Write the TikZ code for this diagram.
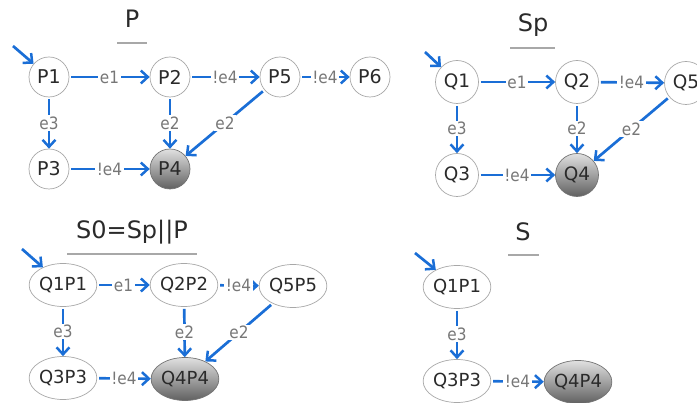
\documentclass[tikz,border=0pt]{standalone}
\usepackage{fontspec}
\setmainfont{DejaVu Sans}
\newfontfamily\narrowfont{DejaVu Sans}[FakeStretch=0.9]
\usetikzlibrary{arrows.meta,shapes.geometric}
\definecolor{edgeblue}{HTML}{1A6ED6}
\definecolor{lblgray}{HTML}{777777}
\definecolor{txtdark}{HTML}{2A2A2A}
\definecolor{rimgray}{HTML}{A8A8A8}
\begin{document}
\begin{tikzpicture}[x=1pt,y=-1pt,
  state/.style={circle,draw=rimgray,line width=0.7pt,fill=white,text=txtdark,
    minimum size=40pt,inner sep=0pt,font=\fontsize{19}{19}\selectfont},
  qstate/.style={state,minimum size=43pt,font=\fontsize{18.5}{18.5}\selectfont},
  pstate/.style={ellipse,draw=rimgray,line width=0.7pt,fill=white,text=txtdark,
    minimum width=62pt,minimum height=43pt,inner sep=0pt,font=\fontsize{18}{18}\selectfont},
  final/.style={draw=black!55,top color=black!12,bottom color=black!62,fill=none},
  trans/.style={draw=edgeblue,line width=2.7pt,shorten <=2pt,
    -{Straight Barb[length=7pt,width=13pt,line width=2.5pt]}},
  initarrow/.style={draw=edgeblue,line width=2.7pt,
    -{Straight Barb[length=7pt,width=13pt,line width=2.5pt]}},
  lbl/.style={fill=white,text=lblgray,inner sep=1.5pt,font=\narrowfont\fontsize{17}{17}\selectfont},
  title/.style={text=txtdark,anchor=base,inner sep=0pt,font=\fontsize{24}{24}\selectfont},
  rule/.style={draw=rimgray,line width=1.1pt}
]
\clip (0,0) rectangle (697,403);

% ---------- automaton P ----------
\node[title] (tP) at (132,28) {P};
\coordinate (uPa) at (117,43); \coordinate (uPb) at (147,43);
\draw[rule] (uPa) -- (uPb);
\node[state] (P1) at (49,77) {P1};
\node[state] (P2) at (170,77) {P2};
\node[state] (P5) at (280,77) {P5};
\node[state] (P6) at (370,77) {P6};
\node[state] (P3) at (49,169) {P3};
\node[state,final] (P4) at (170,169) {P4};
\coordinate (iP) at (13,46);
\draw[initarrow] (iP) -- (P1);
\draw[trans] (P1) -- node[lbl] {e1} (P2);
\draw[trans] (P2) -- node[lbl] {!e4} (P5);
\draw[trans] (P5) -- node[lbl] {!e4} (P6);
\draw[trans] (P1) -- node[lbl] {e3} (P3);
\draw[trans] (P2) -- node[lbl] {e2} (P4);
\draw[trans] (P5) -- node[lbl] {e2} (P4);
\draw[trans] (P3) -- node[lbl] {!e4} (P4);

% ---------- automaton Sp ----------
\node[title] (tSp) at (533,32) {Sp};
\coordinate (uSpa) at (510,48); \coordinate (uSpb) at (555,48);
\draw[rule] (uSpa) -- (uSpb);
\node[qstate] (Q1) at (457,82) {Q1};
\node[qstate] (Q2) at (577,82) {Q2};
\node[qstate] (Q5) at (686,83) {Q5};
\node[qstate] (Q3) at (457,175) {Q3};
\node[qstate,final] (Q4) at (577,175) {Q4};
\coordinate (iSp) at (425,52);
\draw[initarrow] (iSp) -- (Q1);
\draw[trans] (Q1) -- node[lbl] {e1} (Q2);
\draw[trans] (Q2) -- node[lbl] {!e4} (Q5);
\draw[trans] (Q1) -- node[lbl] {e3} (Q3);
\draw[trans] (Q2) -- node[lbl] {e2} (Q4);
\draw[trans] (Q5) -- node[lbl] {e2} (Q4);
\draw[trans] (Q3) -- node[lbl] {!e4} (Q4);

% ---------- product S0 = Sp||P ----------
\node[title] (tS0) at (132,239) {S0=Sp||P};
\coordinate (uS0a) at (67,254); \coordinate (uS0b) at (197,254);
\draw[rule] (uS0a) -- (uS0b);
\node[pstate] (A11) at (63,285) {Q1P1};
\node[pstate] (A22) at (184,285) {Q2P2};
\node[pstate] (A55) at (293,286) {Q5P5};
\node[pstate] (A33) at (63,378) {Q3P3};
\node[pstate,final] (A44) at (185,379) {Q4P4};
\coordinate (iS0) at (22,249);
\draw[initarrow] (iS0) -- (A11);
\draw[trans] (A11) -- node[lbl] {e1} (A22);
\draw[trans] (A22) -- node[lbl] {!e4} (A55);
\draw[trans] (A11) -- node[lbl] {e3} (A33);
\draw[trans] (A22) -- node[lbl] {e2} (A44);
\draw[trans] (A55) -- node[lbl] {e2} (A44);
\draw[trans] (A33) -- node[lbl] {!e4} (A44);

% ---------- reduced S ----------
\node[title] (tS) at (523,241) {S};
\coordinate (uSa) at (508,255); \coordinate (uSb) at (539,255);
\draw[rule] (uSa) -- (uSb);
\node[pstate] (B11) at (457,287) {Q1P1};
\node[pstate] (B33) at (457,381) {Q3P3};
\node[pstate,final] (B44) at (578,382) {Q4P4};
\coordinate (iS) at (415,253);
\draw[initarrow] (iS) -- (B11);
\draw[trans] (B11) -- node[lbl] {e3} (B33);
\draw[trans] (B33) -- node[lbl] {!e4} (B44);
\end{tikzpicture}
\end{document}
